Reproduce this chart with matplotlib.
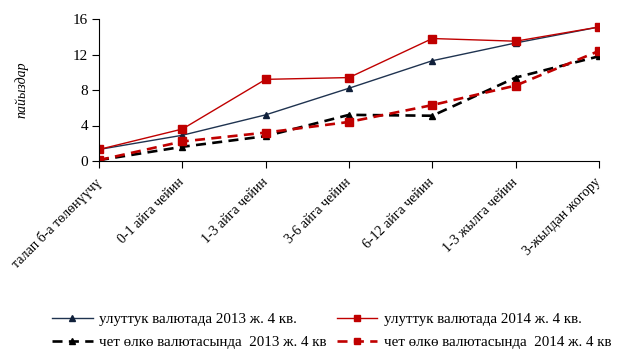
import matplotlib.pyplot as plt
import numpy as np

plt.rcParams['font.family'] = ['Liberation Serif', 'DejaVu Serif']

categories = ["талап б-а төлөнүүчү", "0-1 айга чейин", "1-3 айга чейин", "3-6 айга чейин",
              "6-12 айга чейин", "1-3 жылга чейин", "3-жылдан жогору"]
nat_2013 = [1.3, 2.9, 5.2, 8.2, 11.3, 13.3, 15.1]
nat_2014 = [1.3, 3.6, 9.2, 9.4, 13.8, 13.5, 15.1]
for_2013 = [0.1, 1.6, 2.8, 5.2, 5.1, 9.4, 11.8]
for_2014 = [0.1, 2.2, 3.2, 4.4, 6.3, 8.5, 12.4]
yticks = [0, 4, 8, 12, 16]

navy = "#1f3350"
red = "#c00000"
dash = (0, (3.8, 2.4))

fig = plt.figure(figsize=(6.18, 3.52), dpi=100)
ax = fig.add_axes([99 / 618, 1 - 161 / 352, 500 / 618, 142 / 352])
x = np.arange(len(categories))

l1, = ax.plot(x, nat_2013, color=navy, lw=1.0, marker="^", ms=5, mfc="#10203a", mec="#10203a",
              label="улуттук валютада 2013 ж. 4 кв.")
l2, = ax.plot(x, nat_2014, color=red, lw=1.0, marker="s", ms=5.8, mfc=red, mec=red,
              label="улуттук валютада 2014 ж. 4 кв.")
l3, = ax.plot(x, for_2013, color="black", lw=1.9, ls=dash, marker="^", ms=5,
              label="чет өлкө валютасында  2013 ж. 4 кв")
l4, = ax.plot(x, for_2014, color=red, lw=1.9, ls=dash, marker="s", ms=5.8,
              label="чет өлкө валютасында  2014 ж. 4 кв")

ax.set_xlim(0, 6)
ax.set_ylim(0, 16)
ax.set_yticks(yticks)
ax.set_xticks(x)
ax.set_xticklabels(categories, rotation=45, ha="right", va="center", rotation_mode="anchor", fontsize=10)
ax.tick_params(axis="y", labelsize=11, length=5, width=0.8, direction="out", pad=3)
ax.tick_params(axis="x", length=5, width=0.8, direction="out", pad=9)
for s in ["top", "right"]:
    ax.spines[s].set_visible(False)
for s in ["left", "bottom"]:
    ax.spines[s].set_linewidth(0.8)

fig.text(22 / 618, 1 - 90 / 352, "пайыздар", rotation=90, style="italic", fontsize=10,
         ha="center", va="center")

fig.legend(handles=[l1, l3, l2, l4], ncol=2, loc="lower left",
           bbox_to_anchor=(49 / 618, 0.0), frameon=False, fontsize=10.8, markerscale=0.75,
           handlelength=2.7, handletextpad=0.45, columnspacing=0.65, labelspacing=0.6,
           borderpad=0.2, borderaxespad=0.0)

fig.savefig("out.png", dpi=100)
